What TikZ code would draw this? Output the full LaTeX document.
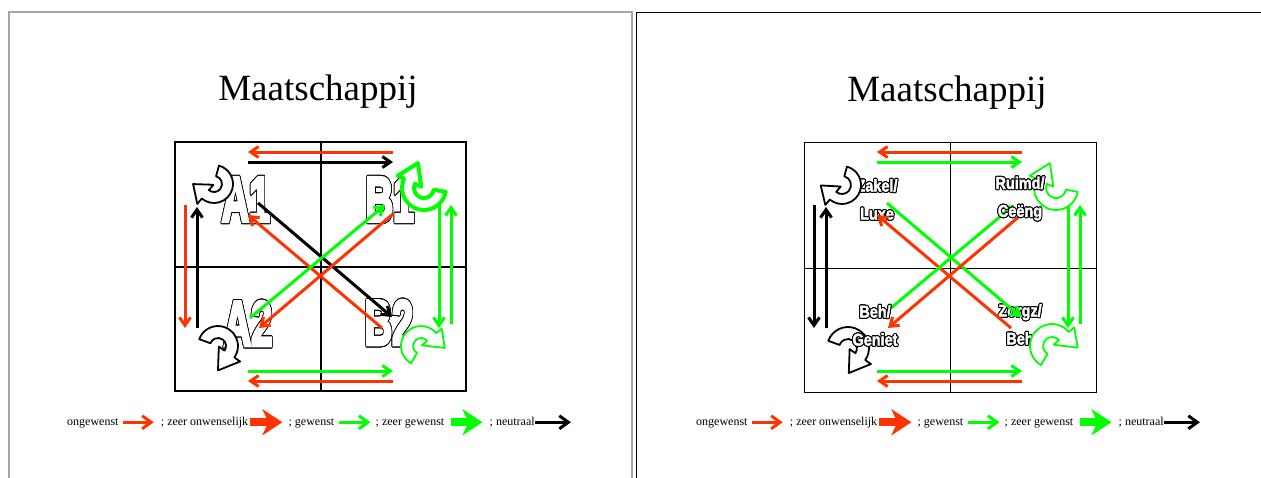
\documentclass[tikz,border=0pt]{standalone}
\usepackage{fontspec}
\setmainfont{Liberation Serif}
\newfontfamily\labelfont{Liberation Sans}[UprightFont={* Bold},FakeBold=2.5]
\newfontfamily\grootfont{Liberation Sans}[UprightFont={* Bold},FakeBold=6]
\usepackage{graphicx}
\usepackage{contour}
\contourlength{1.1pt}
\usepackage{tikz}
\usetikzlibrary{arrows.meta,calc}
\usetikzlibrary{positioning}

\definecolor{oranjerood}{RGB}{255,51,0}
\definecolor{felgroen}{RGB}{0,255,0}

% holle letters
\newcommand\groot[1]{\scalebox{.6}[1]{\contour{black}{#1}}}
\newcommand\lbl[1]{\scalebox{.85}[1]{\contour{black}{#1}}}

% gebogen blokpijl: stijl, middelpunt, begin, eind, r binnen, r buiten, richting punt, lengte punt
\newcommand\uturn[8][]{%
  \draw[#1] ($(#2)+(#3:#6)$) arc[start angle=#3,end angle=#4,radius=#6]
    -- ($(#2)+(#4:{#6+7})$) -- ($(#2)+(#4:{(#5+#6)/2})+(#7:#8)$)
    -- ($(#2)+(#4:{#5-7})$) -- ($(#2)+(#4:#5)$)
    arc[start angle=#4,end angle=#3,radius=#5] -- cycle;}

% eindpunten van de rechte pijlen
\newcommand\pijlpunten{%
  \foreach \naam/\x/\y in {bl1/248/152, br1/393/152, bl2/248/162, br2/393/162,
    ol1/248/371, or1/393/371, ol2/248/381, or2/393/381,
    lb1/185/205, lo1/185/328, lb2/197/207, lo2/197/328,
    rb1/439/202, ro1/439/328, rb2/451/205, ro2/451/324,
    d1a/258/203, d1b/392/317, d2a/382/328, d2b/248/215,
    d3a/250/318, d3b/385/205, d4a/393/214, d4b/259/328}
    {\coordinate (\naam) at (\x,\y);}}

% legenda onder de dia
\newcommand\legenda[1]{%
  \node[leg,anchor=base west] (#1ong) at (67,425) {ongewenst};
  \node[leg,base right=42pt of #1ong] (#1zow) {; zeer onwenselijk};
  \node[leg,base right=40pt of #1zow] (#1gew) {; gewenst};
  \node[leg,base right=41pt of #1gew] (#1zgw) {; zeer gewenst};
  \node[leg,base right=45pt of #1zgw] (#1neu) {; neutraal};
  \coordinate[right=36pt of #1neu] (#1eind);
  \draw[legdun,draw=oranjerood,shorten <=4pt,shorten >=7pt] (#1ong) -- (#1zow);
  \draw[legdik,draw=oranjerood,fill=oranjerood,shorten <=2pt,shorten >=6pt] (#1zow) -- (#1gew);
  \draw[legdun,draw=felgroen,shorten <=5pt,shorten >=5pt] (#1gew) -- (#1zgw);
  \draw[legdik,draw=felgroen,fill=felgroen,shorten <=6pt,shorten >=7pt] (#1zgw) -- (#1neu);
  \draw[legdun,draw=black] (#1neu) -- (#1eind);}

\begin{document}
\begin{tikzpicture}[x=1pt,y=-1pt,
  pijl/.style={line width=3pt,-{Straight Barb[length=8pt,width=11pt]}},
  rood/.style={pijl,draw=oranjerood},
  groen/.style={pijl,draw=felgroen},
  zwart/.style={pijl,draw=black},
  bocht/.style={draw=black,fill=white,line width=1.8pt,line join=round},
  bochtgroen/.style={bocht,draw=felgroen},
  bochtdik/.style={bocht,draw=felgroen,line width=4pt},
  letter/.style={text=white,inner sep=0,font=\grootfont\fontsize{63}{63}\selectfont},
  woord/.style={text=white,inner sep=0,align=center,font=\labelfont\fontsize{17}{28}\selectfont},
  titel/.style={anchor=base,font=\fontsize{37}{40}\selectfont},
  leg/.style={inner sep=0,text height=8pt,text depth=2.5pt,font=\fontsize{12}{14}\selectfont},
  legdun/.style={line width=3pt,-{Straight Barb[length=9pt,width=13pt]}},
  legdik/.style={line width=8pt,-{Stealth[length=20pt,width=26pt,inset=6pt]}}]

  \useasboundingbox (0,0) rectangle (1261,477);

  % dia randen
  \draw[gray!70,line width=1.5pt] (9,12) rectangle (632,500);
  \draw[line width=1pt] (636,12) rectangle (1300,500);

  % linker dia
  \begin{scope}
    \node[titel] (titel) at (318,100) {Maatschappij};

    % kader
    \draw[line width=2.5pt] (175,142) rectangle (466,391);
    \draw[line width=2.5pt] (321,142) -- (321,391) (175,267) -- (466,267);

    % letters
    \node[letter] (A1) at (246,200) {\groot{A1}};
    \node[letter] (B1) at (390,200) {\groot{B1}};
    \node[letter] (A2) at (248,324) {\groot{A2}};
    \node[letter] (B2) at (389,323) {\groot{B2}};

    % pijlen
    \pijlpunten
    \draw[rood]  (br1) -- (bl1);
    \draw[zwart] (bl2) -- (br2);
    \draw[rood]  (lb1) -- (lo1);
    \draw[zwart] (lo2) -- (lb2);
    \draw[groen] (rb1) -- (ro1);
    \draw[groen] (ro2) -- (rb2);
    \draw[groen] (ol1) -- (or1);
    \draw[rood]  (or2) -- (ol2);
    \draw[zwart] (d1a) -- (d1b);
    \draw[rood]  (d2a) -- (d2b);
    \draw[groen] (d3a) -- (d3b);
    \draw[rood]  (d4a) -- (d4b);

    % bochten
    \uturn[bocht]{214,184}{285}{490}{8}{19}{220}{16}
    \uturn[bochtdik]{424,188}{10}{205}{10}{22}{295}{20}
    \uturn[bocht]{218,346}{200}{395}{8}{20}{125}{20}
    \uturn[bochtgroen]{421,346}{120}{320}{8}{20}{40}{17}

    \legenda{l}
  \end{scope}

  % rechter dia
  \begin{scope}[xshift=629pt]
    \node[titel] (titelr) at (318,101) {Maatschappij};

    % kader
    \draw[line width=1pt] (175,142) rectangle (467,392);
    \draw[line width=1pt] (321,142) -- (321,392) (175,268) -- (467,268);

    % woorden onder de pijlen
    \node[woord] (zakel) at (248,200) {\lbl{Zakel/}\\\lbl{Luxe}};
    \node[woord] (zorgz) at (391,325) {\lbl{Zorgz/}\\\lbl{Beh}};

    % pijlen
    \pijlpunten
    \draw[rood]  (br1) -- (bl1);
    \draw[groen] (bl2) -- (br2);
    \draw[zwart] (lb1) -- (lo1);
    \draw[zwart] (lo2) -- (lb2);
    \draw[groen] (rb1) -- (ro1);
    \draw[groen] (ro2) -- (rb2);
    \draw[groen] (ol1) -- (or1);
    \draw[rood]  (or2) -- (ol2);
    \draw[groen] (d1a) -- (d1b);
    \draw[rood]  (d2a) -- (d2b);
    \draw[groen] (d3a) -- (d3b);
    \draw[rood]  (d4a) -- (d4b);

    % bochten
    \uturn[bocht]{213,185}{285}{490}{9}{19}{220}{16}
    \uturn[bochtgroen]{427,188}{10}{205}{10}{22}{295}{20}
    \uturn[bocht]{219,348}{200}{395}{9}{21}{125}{20}
    \uturn[bochtgroen]{423,346}{120}{320}{9}{22}{40}{18}

    % woorden boven de bochten
    \node[woord] (ruimd) at (391,199) {\lbl{Ruimd/}\\\lbl{Ceëng}};
    \node[woord] (geniet) at (246,326) {\lbl{Beh/}\\\lbl{Geniet}};

    \legenda{r}
  \end{scope}
\end{tikzpicture}
\end{document}
